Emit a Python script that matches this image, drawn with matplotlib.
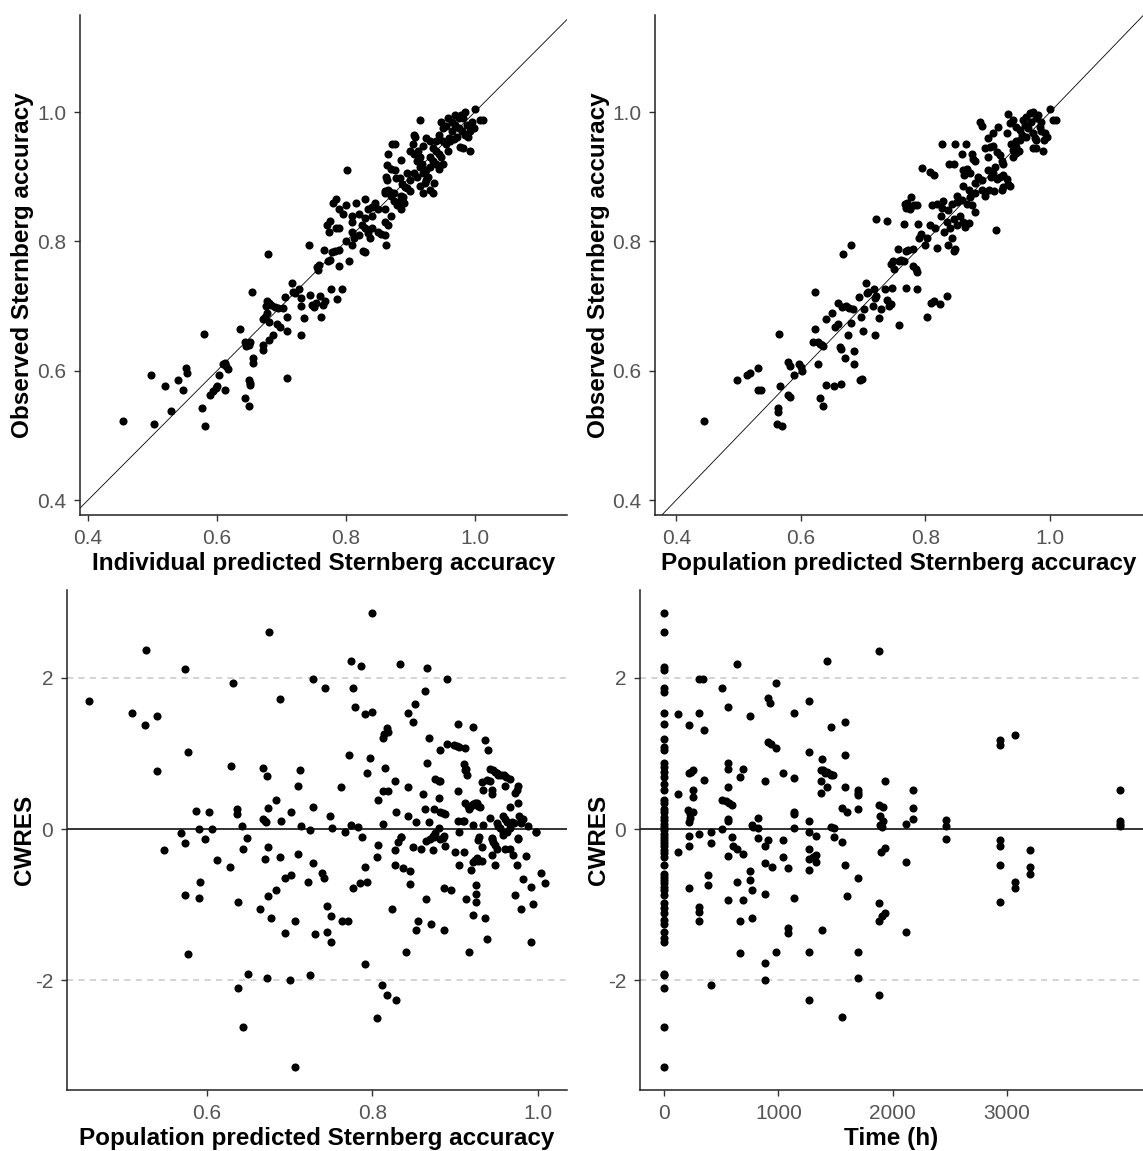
import numpy as np
import matplotlib
matplotlib.use("Agg")
import matplotlib.pyplot as plt
from matplotlib.ticker import FormatStrFormatter

plt.rcParams['font.family'] = ['Liberation Sans', 'DejaVu Sans']
plt.rcParams['axes.unicode_minus'] = False

# individual prediction vs observed accuracy
ipred_obs = [
    (0.455, 0.522), (0.503, 0.517), (0.529, 0.538), (0.498, 0.594), (0.519, 0.576),
    (0.539, 0.586), (0.547, 0.571), (0.552, 0.604), (0.554, 0.596), (0.580, 0.657),
    (0.577, 0.543), (0.582, 0.515), (0.590, 0.563), (0.594, 0.568), (0.598, 0.573),
    (0.600, 0.576), (0.603, 0.594), (0.610, 0.610), (0.614, 0.607), (0.617, 0.602),
    (0.612, 0.612), (0.613, 0.571), (0.636, 0.665), (0.644, 0.645), (0.647, 0.642),
    (0.650, 0.640), (0.645, 0.638), (0.652, 0.644), (0.643, 0.558), (0.649, 0.546),
    (0.650, 0.586), (0.651, 0.581), (0.652, 0.578), (0.656, 0.620), (0.656, 0.612),
    (0.654, 0.721), (0.671, 0.640), (0.672, 0.632), (0.680, 0.648), (0.687, 0.656),
    (0.679, 0.780), (0.672, 0.680), (0.675, 0.683), (0.680, 0.675), (0.677, 0.690),
    (0.678, 0.708), (0.680, 0.704), (0.676, 0.700), (0.684, 0.702), (0.690, 0.698),
    (0.695, 0.697), (0.702, 0.697), (0.693, 0.672), (0.698, 0.668), (0.708, 0.683),
    (0.705, 0.714), (0.709, 0.662), (0.709, 0.589), (0.716, 0.735), (0.718, 0.722),
    (0.721, 0.720), (0.727, 0.726), (0.730, 0.713), (0.730, 0.700), (0.735, 0.681),
    (0.730, 0.655), (0.743, 0.795), (0.745, 0.717), (0.748, 0.702), (0.751, 0.698),
    (0.754, 0.705), (0.760, 0.716), (0.768, 0.708), (0.764, 0.702), (0.761, 0.683),
    (0.755, 0.760), (0.758, 0.764), (0.756, 0.756), (0.777, 0.727), (0.786, 0.711),
    (0.794, 0.727), (0.772, 0.769), (0.775, 0.771), (0.766, 0.786), (0.778, 0.783),
    (0.783, 0.785), (0.790, 0.786), (0.789, 0.762), (0.805, 0.769), (0.810, 0.795),
    (0.812, 0.806), (0.827, 0.785), (0.830, 0.784), (0.837, 0.806), (0.863, 0.795),
    (0.774, 0.815), (0.770, 0.826), (0.775, 0.831), (0.780, 0.860), (0.785, 0.866),
    (0.790, 0.850), (0.795, 0.843), (0.785, 0.820), (0.790, 0.820), (0.800, 0.856),
    (0.810, 0.840), (0.820, 0.843), (0.830, 0.836), (0.835, 0.850), (0.840, 0.853),
    (0.850, 0.850), (0.845, 0.860), (0.830, 0.866), (0.815, 0.860), (0.800, 0.800),
    (0.820, 0.810), (0.830, 0.820), (0.835, 0.813), (0.840, 0.820), (0.850, 0.815),
    (0.855, 0.812), (0.860, 0.830), (0.865, 0.826), (0.860, 0.850), (0.840, 0.840),
    (0.825, 0.826), (0.810, 0.830), (0.870, 0.840), (0.875, 0.862), (0.880, 0.856),
    (0.890, 0.860), (0.885, 0.870), (0.870, 0.870), (0.860, 0.875), (0.865, 0.880),
    (0.860, 0.810), (0.810, 0.815), (0.801, 0.911), (0.915, 0.988), (1.000, 1.004),
    (1.008, 0.988), (1.012, 0.988), (0.871, 0.951), (0.876, 0.951), (0.866, 0.935),
    (0.886, 0.926), (0.864, 0.918), (0.870, 0.912), (0.876, 0.910), (0.862, 0.900),
    (0.864, 0.895), (0.877, 0.898), (0.884, 0.898), (0.860, 0.878), (0.868, 0.876),
    (0.875, 0.875), (0.887, 0.889), (0.892, 0.884), (0.895, 0.882), (0.900, 0.878),
    (0.884, 0.862), (0.889, 0.868), (0.886, 0.850), (0.922, 0.890), (0.937, 0.890),
    (0.925, 0.895), (0.904, 0.950), (0.908, 0.962), (0.905, 0.965), (0.900, 0.940),
    (0.905, 0.935), (0.910, 0.925), (0.915, 0.915), (0.918, 0.920), (0.920, 0.905),
    (0.925, 0.910), (0.928, 0.900), (0.930, 0.930), (0.935, 0.945), (0.940, 0.940),
    (0.945, 0.935), (0.948, 0.930), (0.940, 0.955), (0.945, 0.965), (0.950, 0.975),
    (0.948, 0.985), (0.960, 0.960), (0.965, 0.970), (0.970, 0.980), (0.975, 0.990),
    (0.978, 0.995), (0.980, 0.970), (0.985, 0.965), (0.990, 0.962), (0.992, 0.970),
    (0.988, 0.980), (0.982, 0.990), (0.977, 0.946), (0.982, 0.945), (0.992, 0.940),
    (0.955, 0.950), (0.958, 0.940), (0.962, 0.955), (0.968, 0.958), (0.972, 0.962),
    (0.965, 0.985), (0.958, 0.990), (0.955, 0.978), (0.950, 0.955), (0.935, 0.925),
    (0.930, 0.915), (0.915, 0.930), (0.912, 0.940), (0.925, 0.960), (0.930, 0.955),
    (0.920, 0.948), (0.970, 0.995), (0.985, 1.000), (0.995, 0.985), (0.998, 0.975),
    (0.975, 0.975), (0.940, 0.920), (0.945, 0.912), (0.950, 0.920), (0.905, 0.905),
    (0.910, 0.900), (0.900, 0.895), (0.895, 0.905), (0.930, 0.880), (0.935, 0.875),
    (0.915, 0.885), (0.920, 0.875),
]

# population prediction vs observed accuracy
pred_obs = [
    (0.445, 0.522), (0.497, 0.586), (0.513, 0.594), (0.518, 0.596), (0.531, 0.604),
    (0.532, 0.571), (0.536, 0.571), (0.563, 0.543), (0.563, 0.537), (0.561, 0.518),
    (0.569, 0.515), (0.567, 0.576), (0.565, 0.657), (0.579, 0.614), (0.582, 0.608),
    (0.580, 0.563), (0.582, 0.560), (0.589, 0.594), (0.597, 0.610), (0.600, 0.606),
    (0.602, 0.600), (0.623, 0.721), (0.623, 0.665), (0.620, 0.645), (0.627, 0.645),
    (0.631, 0.642), (0.634, 0.640), (0.636, 0.638), (0.628, 0.611), (0.631, 0.558),
    (0.636, 0.546), (0.641, 0.578), (0.654, 0.576), (0.665, 0.580), (0.663, 0.637),
    (0.664, 0.634), (0.671, 0.620), (0.686, 0.630), (0.686, 0.610), (0.695, 0.586),
    (0.698, 0.588), (0.640, 0.680), (0.650, 0.690), (0.655, 0.668), (0.660, 0.672),
    (0.660, 0.705), (0.666, 0.698), (0.672, 0.700), (0.678, 0.697), (0.684, 0.696),
    (0.675, 0.655), (0.680, 0.674), (0.696, 0.683), (0.693, 0.714), (0.699, 0.662),
    (0.701, 0.696), (0.705, 0.735), (0.707, 0.722), (0.706, 0.720), (0.716, 0.700),
    (0.718, 0.727), (0.720, 0.715), (0.719, 0.712), (0.725, 0.681), (0.719, 0.655),
    (0.729, 0.696), (0.735, 0.727), (0.738, 0.710), (0.742, 0.700), (0.745, 0.703),
    (0.746, 0.728), (0.757, 0.670), (0.768, 0.728), (0.786, 0.727), (0.802, 0.683),
    (0.809, 0.704), (0.813, 0.708), (0.824, 0.703), (0.835, 0.716), (0.745, 0.765),
    (0.748, 0.770), (0.750, 0.758), (0.758, 0.770), (0.761, 0.772), (0.765, 0.769),
    (0.756, 0.788), (0.768, 0.785), (0.772, 0.786), (0.780, 0.788), (0.780, 0.762),
    (0.784, 0.757), (0.786, 0.753), (0.667, 0.780), (0.681, 0.795), (0.790, 0.805),
    (0.793, 0.812), (0.800, 0.795), (0.802, 0.806), (0.818, 0.790), (0.836, 0.795),
    (0.842, 0.806), (0.846, 0.785), (0.848, 0.788), (0.913, 0.817), (0.864, 0.823),
    (0.870, 0.828), (0.720, 0.835), (0.738, 0.831), (0.765, 0.827), (0.788, 0.827),
    (0.808, 0.825), (0.777, 0.868), (0.771, 0.860), (0.782, 0.856), (0.787, 0.856),
    (0.767, 0.858), (0.769, 0.851), (0.775, 0.850), (0.794, 0.913), (0.808, 0.908),
    (0.813, 0.903), (0.810, 0.856), (0.818, 0.858), (0.826, 0.851), (0.828, 0.863),
    (0.836, 0.848), (0.842, 0.858), (0.850, 0.861), (0.858, 0.864), (0.866, 0.858),
    (0.871, 0.868), (0.874, 0.856), (0.826, 0.951), (0.847, 0.951), (0.865, 0.951),
    (0.837, 0.920), (0.845, 0.920), (0.858, 0.935), (0.874, 0.935), (0.877, 0.928),
    (0.880, 0.925), (0.860, 0.910), (0.866, 0.912), (0.871, 0.905), (0.862, 0.903),
    (0.888, 0.985), (0.890, 0.978), (0.900, 0.960), (0.909, 0.968), (0.917, 0.977),
    (0.896, 0.944), (0.904, 0.946), (0.909, 0.948), (0.915, 0.938), (0.920, 0.933),
    (0.923, 0.925), (0.925, 0.920), (0.912, 0.915), (0.909, 0.905), (0.915, 0.896),
    (0.920, 0.900), (0.925, 0.902), (0.930, 0.896), (0.933, 0.888), (0.935, 0.886),
    (0.900, 0.910), (0.905, 0.900), (0.902, 0.880), (0.910, 0.878), (0.923, 0.880),
    (0.925, 0.884), (0.933, 0.997), (0.930, 0.967), (0.935, 0.983), (0.941, 0.988),
    (0.946, 0.977), (0.952, 0.972), (0.957, 0.988), (0.962, 0.993), (0.968, 0.998),
    (0.973, 1.000), (0.978, 0.990), (0.984, 0.977), (0.986, 0.970), (0.992, 0.968),
    (0.995, 0.962), (0.990, 0.956), (0.978, 0.956), (0.973, 0.967), (0.962, 0.962),
    (0.952, 0.956), (0.946, 0.946), (0.941, 0.941), (0.946, 0.936), (0.938, 0.951),
    (1.000, 1.005), (1.005, 0.988), (1.010, 0.988), (0.972, 0.944), (0.978, 0.944),
    (0.988, 0.940), (0.940, 0.930), (0.950, 0.940), (0.955, 0.965), (0.960, 0.980),
    (0.965, 0.975), (0.970, 0.985), (0.980, 0.995), (0.985, 0.985), (0.975, 0.960),
    (0.945, 0.955), (0.900, 0.930), (0.885, 0.900), (0.880, 0.890), (0.890, 0.895),
    (0.895, 0.870), (0.880, 0.875), (0.870, 0.880), (0.860, 0.885), (0.850, 0.870),
    (0.855, 0.840), (0.845, 0.835), (0.835, 0.830), (0.825, 0.840), (0.815, 0.820),
    (0.830, 0.815), (0.840, 0.820), (0.850, 0.825), (0.860, 0.830), (0.880, 0.845),
    (0.890, 0.880),
]

# population prediction vs conditional weighted residuals
pred_cwres = [
    (0.457, 1.695), (0.509, 1.54), (0.525, 1.374), (0.527, 2.365), (0.540, 1.497),
    (0.540, 0.762), (0.569, -0.057), (0.574, 2.11), (0.577, 1.02), (0.587, 0.24),
    (0.591, 0.0), (0.602, 0.22), (0.606, 0.0), (0.598, -0.13), (0.629, 0.83),
    (0.632, 1.93), (0.636, 0.26), (0.636, 0.2), (0.642, 0.04), (0.648, -0.12),
    (0.668, 0.81), (0.672, 0.70), (0.668, 0.13), (0.670, 0.11), (0.671, 0.09),
    (0.674, 0.28), (0.675, 2.61), (0.684, 0.39), (0.688, 1.72), (0.690, 0.11),
    (0.702, 0.22), (0.710, 0.57), (0.712, 0.78), (0.714, 0.04), (0.724, -0.01),
    (0.728, 1.98), (0.728, 0.29), (0.743, 1.87), (0.749, 0.17), (0.751, 0.02),
    (0.762, 0.55), (0.767, -0.04), (0.772, 0.98), (0.774, 2.22), (0.774, 0.05),
    (0.782, 0.03), (0.777, 1.87), (0.779, 1.61), (0.786, 2.15), (0.787, -0.10),
    (0.791, 1.52), (0.799, 1.55), (0.793, 0.74), (0.797, 0.94), (0.799, 2.85),
    (0.807, 0.39), (0.813, 1.2), (0.814, 1.25), (0.817, 1.33), (0.819, 1.28),
    (0.813, 0.50), (0.819, 0.50), (0.815, 0.81), (0.813, 0.07), (0.827, 0.63),
    (0.829, 0.22), (0.833, 2.18), (0.834, -0.10), (0.843, 0.55), (0.843, 1.54),
    (0.843, 0.17), (0.849, 1.41), (0.851, 1.65), (0.853, 0.09), (0.861, 0.46),
    (0.863, 1.83), (0.863, 0.26), (0.866, 2.13), (0.866, 0.87), (0.868, 1.20),
    (0.868, 0.09), (0.874, 0.26), (0.874, -0.10), (0.876, 0.66), (0.880, 0.64),
    (0.882, 0.63), (0.880, 0.41), (0.882, 1.04), (0.882, 0.23), (0.885, 0.21),
    (0.888, 0.20), (0.880, 0.02), (0.887, -0.09), (0.890, 1.13), (0.890, 1.98),
    (0.898, 1.11), (0.902, 1.10), (0.905, 1.09), (0.903, 1.39), (0.903, 0.50),
    (0.903, 0.11), (0.909, 0.11), (0.911, 0.11), (0.905, -0.04), (0.912, 1.07),
    (0.911, 0.86), (0.913, 0.80), (0.912, 0.78), (0.914, 0.72), (0.912, 0.35),
    (0.915, 0.30), (0.917, 0.26), (0.919, 0.30), (0.922, 0.33), (0.924, 0.35),
    (0.926, 0.34), (0.928, 0.31), (0.930, 0.29), (0.922, 1.35), (0.922, 0.05),
    (0.934, 0.05), (0.929, -0.11), (0.932, 0.62), (0.934, 0.52), (0.938, 0.65),
    (0.942, 0.63), (0.936, 1.18), (0.940, 1.04), (0.942, 0.15), (0.942, 0.79),
    (0.946, 0.78), (0.948, 0.76), (0.950, 0.74), (0.952, 0.71), (0.955, 0.72),
    (0.959, 0.72), (0.961, 0.69), (0.966, 0.66), (0.944, 0.52), (0.945, 0.46),
    (0.944, -0.12), (0.950, 0.08), (0.952, 0.04), (0.954, 0.02), (0.958, 0.17),
    (0.960, 0.13), (0.962, 0.09), (0.958, -0.08), (0.960, 0.57), (0.966, 0.29),
    (0.966, 0.01), (0.969, 0.09), (0.971, 0.08), (0.972, 0.48), (0.974, 0.52),
    (0.976, 0.57), (0.976, 0.35), (0.977, 0.17), (0.979, 0.12), (0.982, 0.13),
    (0.980, 0.08), (0.976, -0.12), (0.988, 0.04), (0.998, -0.04),
    (0.548, -0.28), (0.573, -0.18), (0.573, -0.87), (0.577, -1.65), (0.590, -0.91),
    (0.592, -0.70), (0.612, -0.41), (0.628, -0.50), (0.638, -0.96), (0.638, -2.10),
    (0.644, -0.26), (0.644, -2.62), (0.650, -1.92), (0.664, -1.06), (0.670, -0.39),
    (0.672, -1.97), (0.674, -0.89), (0.674, -0.24), (0.678, -1.17), (0.684, -0.81),
    (0.688, -0.37), (0.694, -0.65), (0.702, -0.61), (0.694, -1.37), (0.700, -1.99),
    (0.706, -1.22), (0.706, -3.15), (0.710, -0.33), (0.722, -0.70), (0.725, -1.93),
    (0.728, -0.45), (0.731, -1.39), (0.739, -0.58), (0.742, -0.65), (0.745, -1.02),
    (0.750, -1.15), (0.745, -1.36), (0.750, -1.49), (0.763, -1.22), (0.771, -1.22),
    (0.777, -0.78), (0.785, -0.72), (0.793, -0.70), (0.791, -0.50), (0.791, -1.78),
    (0.805, -0.37), (0.807, -0.21), (0.811, -2.06), (0.805, -2.50), (0.817, -2.19),
    (0.829, -2.26), (0.823, -1.06), (0.827, -0.28), (0.827, -0.48), (0.831, -0.17),
    (0.834, -0.11), (0.837, -0.52), (0.845, -0.56), (0.845, -0.73), (0.841, -1.63),
    (0.849, -0.24), (0.859, -0.26), (0.853, -1.34), (0.855, -1.22), (0.865, -0.93),
    (0.865, -0.16), (0.869, -0.13), (0.873, -0.09), (0.876, -0.05), (0.871, -1.26),
    (0.873, -0.28), (0.882, -0.13), (0.885, -0.12), (0.888, -0.22), (0.887, -0.78),
    (0.895, -0.80), (0.887, -1.33), (0.900, -0.30), (0.905, -0.48), (0.911, -0.30),
    (0.913, -0.93), (0.917, -1.63), (0.919, -0.54), (0.922, -0.44), (0.924, -0.41),
    (0.926, -0.38), (0.928, -0.42), (0.932, -0.42), (0.922, -1.13), (0.925, -0.86),
    (0.925, -0.97), (0.925, -0.74), (0.928, -0.15), (0.932, -0.24), (0.936, -1.17),
    (0.938, -1.45), (0.944, -0.34), (0.948, -0.48), (0.944, -0.13), (0.946, -0.17),
    (0.948, -0.21), (0.950, -0.26), (0.958, -0.04), (0.960, -0.26), (0.963, -0.04),
    (0.966, -0.26), (0.970, -0.34), (0.972, -0.87), (0.974, -0.48), (0.976, -0.13),
    (0.980, -1.06), (0.982, -0.66), (0.986, -0.35), (0.992, -0.76), (0.994, -0.99),
    (0.992, -1.50), (0.998, -0.04), (1.004, -0.58), (1.008, -0.72),
]

# residuals of the baseline samples (time = 0 h)
cwres_baseline = [
    2.85, 2.61, 2.14, 2.10, 1.86, 1.81, 1.54, 1.39, 1.19, 1.09,
    1.04, 0.87, 0.82, 0.76, 0.69, 0.60, 0.52, 0.38, 0.34, 0.27,
    0.23, 0.16, 0.12, 0.07, 0.03, -0.01, -0.06, -0.10, -0.15, -0.19,
    -0.23, -0.28, -0.32, -0.37, -0.48, -0.59, -0.63, -0.67, -0.72, -0.76,
    -0.81, -0.87, -0.98, -1.05, -1.11, -1.20, -1.25, -1.36, -1.44, -1.49,
    -1.91, -1.93, -2.10, -2.62, -3.14,
]

# time after start (h) vs conditional weighted residuals
time_cwres = [
    (120, 1.52), (120, 0.46), (120, -0.30), (222, 1.37), (222, 0.74),
    (240, 0.76), (256, 0.78), (251, 0.51), (251, 0.43), (210, 0.25),
    (230, 0.20), (255, 0.22), (225, 0.15), (221, 0.09), (221, -0.09),
    (221, -0.23), (221, -0.78), (309, 1.98), (344, 1.98), (309, 1.54),
    (309, -0.07), (309, -1.03), (309, -1.10), (309, -1.22), (353, 1.31),
    (353, 0.65), (382, -0.61), (382, -0.74), (411, -0.04), (411, -0.19),
    (411, -2.06), (505, 1.87), (505, 0.39), (540, 0.37), (565, 0.35),
    (592, 0.32), (505, 0.0), (563, 0.87), (563, 0.80), (563, 0.55),
    (563, 1.61), (563, 0.13), (563, 0.11), (563, -0.35), (563, -0.94),
    (592, -0.11), (606, -0.23), (636, -0.26), (636, 2.18), (636, -0.70),
    (665, 0.69), (665, -1.22), (665, -1.64), (694, 0.80), (694, -0.33),
    (694, -0.94), (752, 1.50), (767, 0.05), (780, 0.03), (825, 0.01),
    (752, -0.56), (752, -0.67), (767, -0.81), (767, -1.17), (820, 0.15),
    (820, -0.12), (884, 0.63), (884, -0.23), (884, -0.45), (884, -0.86),
    (884, -1.77), (884, -1.99), (907, 1.73), (927, 1.66), (907, 1.15),
    (934, 1.13), (913, -0.15), (942, -0.50), (980, 1.93), (980, 1.07),
    (980, -1.62), (1038, 0.74), (1038, -0.15), (1038, -0.37), (1082, -0.52),
    (1082, -1.31), (1082, -1.38), (1137, 1.54), (1137, 0.67), (1137, 0.23),
    (1137, 0.20), (1137, 0.02), (1137, -0.91), (1269, 1.69), (1269, 1.02),
    (1269, 0.11), (1269, -0.04), (1269, -0.26), (1269, -0.40), (1269, -0.54),
    (1269, -1.62), (1269, -2.26), (1303, -0.37), (1330, -0.44), (1330, -0.34),
    (1330, -0.09), (1371, 0.78), (1390, 0.78), (1410, 0.74), (1430, 0.76),
    (1450, 0.73), (1465, 0.72), (1479, 0.71), (1371, 0.63), (1371, 0.48),
    (1385, 0.93), (1385, -1.33), (1429, 2.22), (1429, 0.55), (1458, 1.35),
    (1458, 0.03), (1487, 0.01), (1487, -0.11), (1557, 0.28), (1557, -0.17),
    (1557, -2.49), (1586, 1.41), (1586, 0.98), (1586, 0.55), (1601, 0.22),
    (1586, -0.48), (1601, -0.89), (1700, 0.52), (1700, 0.48), (1700, 0.45),
    (1700, 0.26), (1700, -0.65), (1700, -1.63), (1700, -1.97), (1884, 2.36),
    (1884, 0.32), (1913, 0.29), (1890, 0.17), (1913, 0.10), (1890, 0.05),
    (1905, 0.03), (1934, 0.63), (1899, -0.30), (1934, -0.25), (1884, -0.98),
    (1884, -1.22), (1905, -1.15), (1934, -1.11), (1884, -2.19), (2117, 0.07),
    (2117, -0.43), (2117, -1.36), (2176, 0.52), (2176, 0.28), (2176, 0.13),
    (2467, 0.12), (2467, 0.04), (2467, -0.13), (2940, 1.18), (2940, 1.11),
    (3071, 1.24), (2940, -0.15), (2940, -0.22), (2940, -0.48), (2940, -0.96),
    (3071, -0.70), (3071, -0.78), (3202, -0.28), (3202, -0.50), (3202, -0.59),
    (3990, 0.52), (3990, 0.10), (3990, 0.07), (3990, 0.04),
]

acc_ticks = [0.4, 0.6, 0.8, 1.0]
cwres_ticks = [-2, 0, 2]
time_ticks = [0, 1000, 2000, 3000]

W, H = 1143, 1151


def panel(left, top, right, bottom):
    return fig.add_axes([left / W, 1 - bottom / H, (right - left) / W, (bottom - top) / H])


def style(ax):
    for side in ('top', 'right'):
        ax.spines[side].set_visible(False)
    for side in ('left', 'bottom'):
        ax.spines[side].set_linewidth(1.1)
        ax.spines[side].set_color('#222222')
    ax.tick_params(length=4, width=1, color='#333333', labelsize=15,
                   labelcolor='#555555', pad=6)


def dots(ax, pts):
    x, y = np.array(pts).T
    ax.scatter(x, y, s=34, c='black', linewidths=0, zorder=3)


label_kw = dict(fontsize=17.5, fontweight='bold', color='black')

fig = plt.figure(figsize=(W / 100, H / 100), dpi=100)

# observed vs predicted accuracy
ax1 = panel(80, 15, 567, 515)
ax2 = panel(655, 15, 1143, 515)
for ax, pts, xlab, xlim, lx in [
        (ax1, ipred_obs, 'Individual predicted Sternberg accuracy', (0.3876, 1.143), -0.094),
        (ax2, pred_obs, 'Population predicted Sternberg accuracy', (0.366, 1.149), -0.092)]:
    style(ax)
    ax.axline((0.4, 0.4), (1.0, 1.0), color='black', lw=0.6, zorder=2)
    dots(ax, pts)
    ax.set_xlim(*xlim)
    ax.set_ylim(0.377, 1.150)
    ax.set_xticks(acc_ticks)
    ax.set_yticks(acc_ticks)
    ax.xaxis.set_major_formatter(FormatStrFormatter('%.1f'))
    ax.yaxis.set_major_formatter(FormatStrFormatter('%.1f'))
    ax.set_xlabel(xlab, **label_kw)
    ax.set_ylabel('Observed Sternberg accuracy', **label_kw)
    ax.xaxis.set_label_coords(0.5, -0.074)
    ax.yaxis.set_label_coords(lx, 0.5)

# residual diagnostics
ax3 = panel(67, 590, 567, 1090)
ax4 = panel(640, 590, 1143, 1090)
time_all = [(0, v) for v in cwres_baseline] + time_cwres
for ax, pts, xlab in [(ax3, pred_cwres, 'Population predicted Sternberg accuracy'),
                      (ax4, time_all, 'Time (h)')]:
    style(ax)
    for lvl in (-2, 2):
        ax.axhline(lvl, color='#c8c8c8', lw=1.1, dashes=(4, 3.5), zorder=1)
    ax.axhline(0, color='#333333', lw=1.4, zorder=2)
    dots(ax, pts)
    ax.set_ylim(-3.45, 3.16)
    ax.set_yticks(cwres_ticks)
    ax.set_xlabel(xlab, **label_kw)
    ax.set_ylabel('CWRES', **label_kw)
    ax.xaxis.set_label_coords(0.5, -0.074)

ax3.set_xlim(0.431, 1.035)
ax3.set_xticks(acc_ticks[1:])
ax3.xaxis.set_major_formatter(FormatStrFormatter('%.1f'))
ax3.yaxis.set_label_coords(-0.062, 0.5)

ax4.set_xlim(-210, 4190)
ax4.set_xticks(time_ticks)
ax4.yaxis.set_label_coords(-0.060, 0.5)

fig.savefig('out.png', dpi=100)
